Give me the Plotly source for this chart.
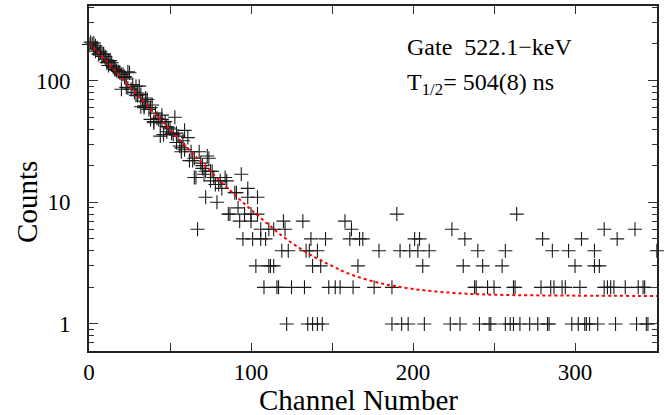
import plotly.graph_objects as go

# ---- data ----
channel = [0, 1, 2, 3, 3, 4, 4, 5, 5, 6, 6, 7, 7, 8, 9, 9, 10, 10, 11, 11, 12, 12, 13, 14,
           15, 15, 16, 16, 17, 18, 19, 20, 20, 21, 22, 22, 23, 23, 24, 24, 25, 26, 27, 28,
           29, 29, 30, 30, 31, 32, 32, 33, 34, 34, 35, 35, 36, 37, 38, 38, 39, 40, 40, 41,
           42, 43, 44, 44, 45, 45, 46, 47, 48, 48, 49, 50, 51, 52, 53, 54, 54, 55, 56, 57,
           57, 58, 59, 59, 61, 62, 63, 64, 65, 65, 66, 67, 68, 69, 70, 70, 71, 72, 72, 73,
           74, 75, 75, 76, 77, 78, 79, 80, 81, 82, 84, 85, 86, 87, 90, 91, 92, 93, 94, 95,
           96, 98, 98, 100, 100, 101, 103, 104, 104, 106, 106, 108, 109, 111, 111, 112, 114, 114,
           116, 117, 119, 120, 121, 122, 123, 125, 132, 133, 134, 135, 136, 137, 138, 138, 141, 141,
           143, 144, 146, 148, 152, 155, 158, 161, 162, 163, 166, 167, 169, 176, 179, 187, 187, 190,
           192, 193, 197, 198, 201, 203, 204, 206, 207, 210, 223, 224, 229, 231, 232, 238, 239, 240,
           241, 243, 246, 247, 248, 250, 255, 257, 257, 260, 262, 262, 263, 264, 266, 272, 277, 279,
           280, 283, 284, 285, 286, 287, 292, 294, 296, 298, 300, 302, 303, 304, 306, 307, 309, 312,
           312, 314, 315, 318, 318, 320, 322, 324, 325, 326, 331, 337, 338, 339, 342, 343, 344, 345,
           350.5]
counts = [198, 207, 200, 182, 204, 193, 174, 182, 186, 166, 164, 171, 174, 158, 166, 164, 150, 158, 141, 140, 133, 144, 146, 140,
          129, 131, 125, 123, 121, 119, 117, 112, 85, 113, 108, 106, 103, 88, 87, 118, 116, 85, 93, 80,
          90, 76, 75, 79, 90, 77, 61, 68, 60, 62, 72, 67, 70, 58, 60, 48, 63, 46, 45, 54,
          49, 48, 45, 35, 48, 52, 36, 46, 38, 42, 41, 40, 37, 36, 50, 37, 31, 35, 29, 28,
          26, 32, 39, 27, 34, 22, 26, 22, 23, 16, 16, 6, 26, 21, 20, 19, 17, 11, 18, 24,
          23, 18, 15, 18, 16, 14, 10, 14, 15, 13, 16, 15, 8, 8, 12, 12, 9, 7, 17, 5,
          8, 13, 11, 8, 7, 5, 3, 8, 11, 5, 6, 2, 5, 6, 3, 3, 3, 6,
          2, 2, 4, 7, 6, 1, 4, 2, 7, 2, 4, 1, 4, 5, 3, 1, 4, 1,
          3, 1, 5, 2, 2, 2, 7, 5, 6, 2, 3, 5, 5, 2, 4, 1, 2, 8,
          4, 1, 1, 4, 5, 4, 5, 3, 1, 4, 1, 6, 1, 3, 5, 2, 2, 4,
          1, 3, 2, 1, 1, 2, 3, 4, 1, 1, 1, 2, 2, 8, 1, 1, 1, 2,
          5, 1, 1, 2, 4, 2, 2, 2, 4, 1, 3, 1, 2, 5, 1, 1, 1, 4,
          3, 1, 3, 2, 6, 2, 2, 2, 1, 5, 2, 6, 1, 2, 2, 2, 1, 1,
          4]

fit_channel = [0, 10, 20, 30, 40, 50, 60, 70, 80, 90, 100, 110, 120, 130, 140, 150, 160,
               180, 200, 225, 250, 300, 351]
fit_counts = [205, 148, 106, 76, 54.8, 39.5, 28.6, 20.9, 15.4, 11.5, 8.7, 6.7, 5.2, 4.2, 3.5,
              3.0, 2.6, 2.16, 1.94, 1.8, 1.74, 1.71, 1.70]

x_ticks = [0, 50, 100, 150, 200, 250, 300, 350]
x_tick_labels = ["0", "", "100", "", "200", "", "300", ""]
y_ticks = [1, 10, 100]
y_tick_labels = ["1", "10", "100"]
y_minor = [0.6, 0.7, 0.8, 0.9, 2, 3, 4, 5, 6, 7, 8, 9, 20, 30, 40, 50, 60, 70, 80, 90, 200, 300, 400]

FONT = "Liberation Serif, Times New Roman, serif"

fig = go.Figure()
fig.add_trace(go.Scatter(
    x=channel, y=counts, mode="markers",
    marker=dict(symbol="cross-thin", size=10, line=dict(width=1.1, color="#1a1a1a")),
    cliponaxis=False, showlegend=False))
fig.add_trace(go.Scatter(
    x=fit_channel, y=fit_counts, mode="lines", line_shape="spline",
    line=dict(color="#ff0000", width=2, dash="dot"), showlegend=False))

fig.update_layout(
    width=664, height=415,
    margin=dict(l=89, r=7, t=6, b=64, autoexpand=False),
    paper_bgcolor="white", plot_bgcolor="white",
    font=dict(family=FONT, size=23, color="black"),
    annotations=[
        dict(x=0.556, y=0.882, xref="paper", yref="paper", xanchor="left", yanchor="middle",
             text="Gate\u00a0 522.1\u2212keV", showarrow=False, font=dict(size=24, family=FONT)),
        dict(x=0.556, y=0.775, xref="paper", yref="paper", xanchor="left", yanchor="middle",
             text="T<sub>1/2</sub>= 504(8) ns", showarrow=False, font=dict(size=24, family=FONT)),
        dict(x=0.4745, y=-0.142, xref="paper", yref="paper", xanchor="center", yanchor="middle",
             text="Channel Number", showarrow=False, font=dict(size=29, family=FONT)),
        dict(x=-0.109, y=0.4325, xref="paper", yref="paper", xanchor="center", yanchor="middle",
             text="Counts", textangle=-90, showarrow=False, font=dict(size=29, family=FONT)),
    ],
)
fig.update_xaxes(
    range=[0, 350.6], tickmode="array", tickvals=x_ticks, ticktext=x_tick_labels,
    ticks="inside", ticklen=8, tickwidth=1.2, tickcolor="#333",
    showline=True, linecolor="#222", linewidth=1.6, mirror="ticks",
    showgrid=False, zeroline=False,
    tickfont=dict(size=23, family=FONT))
fig.update_yaxes(
    type="log", range=[-0.222, 2.613], tickmode="array", tickvals=y_ticks, ticktext=y_tick_labels,
    ticks="inside", ticklen=9, tickwidth=1.2, tickcolor="#333",
    minor=dict(tickmode="array", tickvals=y_minor, ticks="inside", ticklen=5, tickwidth=1, tickcolor="#333"),
    showline=True, linecolor="#222", linewidth=1.6, mirror="ticks",
    showgrid=False, zeroline=False, ticklabelstandoff=12,
    tickfont=dict(size=23, family=FONT))

fig.write_html("out.html", config={"displayModeBar": False},
               post_script="document.body.style.margin='0';")
